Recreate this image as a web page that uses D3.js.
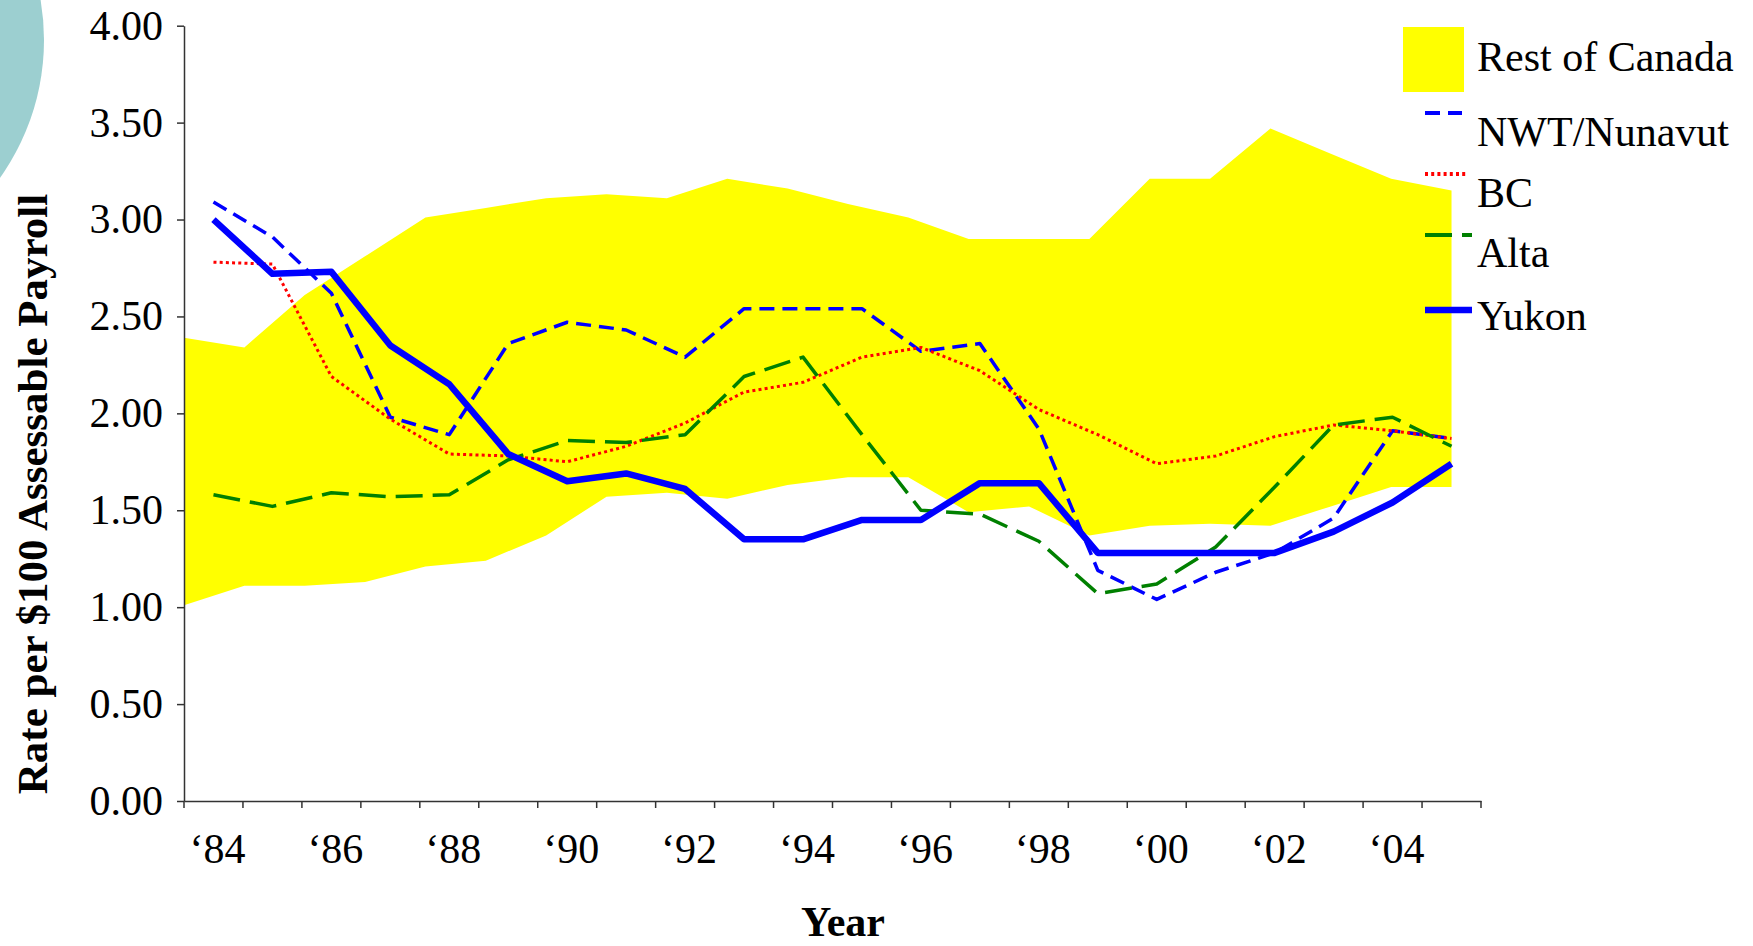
<!DOCTYPE html>
<html>
<head>
<meta charset="utf-8">
<script src="https://cdnjs.cloudflare.com/ajax/libs/d3/7.8.5/d3.min.js"></script>
<style>
    body { margin: 0; background: #fff; }
</style>
</head>
<body>
<div id="wrap"></div>
<script>

// data
var years = [1984, 1985, 1986, 1987, 1988, 1989, 1990, 1991, 1992, 1993, 1994,
             1995, 1996, 1997, 1998, 1999, 2000, 2001, 2002, 2003, 2004, 2005];

var restHigh = [2.39, 2.34, 2.61, 2.81, 3.01, 3.06, 3.11, 3.13, 3.11, 3.21, 3.16,
                3.08, 3.01, 2.90, 2.90, 2.90, 3.21, 3.21, 3.47, 3.34, 3.21, 3.15];
var restLow  = [1.01, 1.11, 1.11, 1.13, 1.21, 1.24, 1.37, 1.57, 1.59, 1.56, 1.63,
                1.67, 1.67, 1.49, 1.52, 1.37, 1.42, 1.43, 1.42, 1.52, 1.62, 1.62];

var nwt   = [3.09, 2.91, 2.62, 1.98, 1.89, 2.36, 2.47, 2.43, 2.29, 2.54, 2.54,
             2.54, 2.32, 2.36, 1.92, 1.19, 1.04, 1.18, 1.28, 1.46, 1.91, 1.87];
var bc    = [2.78, 2.77, 2.19, 1.97, 1.79, 1.78, 1.75, 1.83, 1.95, 2.11, 2.16,
             2.29, 2.34, 2.22, 2.02, 1.89, 1.74, 1.78, 1.88, 1.94, 1.91, 1.87];
var alta  = [1.58, 1.52, 1.59, 1.57, 1.58, 1.76, 1.86, 1.85, 1.89, 2.19, 2.29,
             1.89, 1.50, 1.48, 1.34, 1.07, 1.12, 1.31, 1.62, 1.94, 1.98, 1.83];
var yukon = [3.00, 2.72, 2.73, 2.35, 2.15, 1.79, 1.65, 1.69, 1.61, 1.35, 1.35,
             1.45, 1.45, 1.64, 1.64, 1.28, 1.28, 1.28, 1.28, 1.39, 1.54, 1.74];

var yTicks = [0, 0.5, 1, 1.5, 2, 2.5, 3, 3.5, 4];
var xLabelYears = [1984, 1986, 1988, 1990, 1992, 1994, 1996, 1998, 2000, 2002, 2004];

var restName = "Rest of Canada";
var seriesNames = ["NWT/Nunavut", "BC", "Alta", "Yukon"];
var seriesValues = [nwt, bc, alta, yukon];


// styles
var serif = '"Liberation Serif", "Times New Roman", Times, serif';
var lineStyles = [
    { color: "#0000ff", width: 3.5, dash: "15,8" },
    { color: "#ff0000", width: 3, dash: "3,3.2" },
    { color: "#008000", width: 3.5, dash: "27,10" },
    { color: "#0000ff", width: 6.5, dash: null }
];

var W = 1753, H = 946;
var plotL = 184, plotT = 25.7, plotR = 1481, plotB = 801;
var w = plotR - plotL, h = plotB - plotT;

var svg = d3.select("#wrap").append("svg")
    .attr("width", W)
    .attr("height", H)
    .attr("font-family", serif);

svg.append("rect").attr("width", W).attr("height", H).attr("fill", "#fff");

// decoration circle top-left
svg.append("circle")
    .attr("cx", -194)
    .attr("cy", 40)
    .attr("r", 238)
    .attr("fill", "#9ccfd0");

var g = svg.append("g").attr("transform", "translate(" + plotL + "," + plotT + ")");

var x = d3.scaleBand().domain(years).range([0, w]);
var xc = function(d) { return x(d) + x.bandwidth() / 2; };
// the area series runs from the axis to the last category centre
var xa = d3.scalePoint().domain(years).range([0, xc(years[years.length - 1])]);
var y = d3.scaleLinear().domain([0, 4]).range([h, 0]);

var rest = years.map(function(yr, i) {
    return { year: yr, lo: restLow[i], hi: restHigh[i] };
});

g.append("path")
    .datum(rest)
    .attr("fill", "#ffff00")
    .attr("d", d3.area()
        .x(function(d) { return xa(d.year); })
        .y0(function(d) { return y(d.lo); })
        .y1(function(d) { return y(d.hi); }));

var line = d3.line()
    .x(function(d) { return xc(d.year); })
    .y(function(d) { return y(d.v); });

for (var si = 0; si < seriesNames.length; si++) {
    var pts = years.map(function(yr, i) { return { year: yr, v: seriesValues[si][i] }; });
    g.append("path")
        .datum(pts)
        .attr("fill", "none")
        .attr("stroke", lineStyles[si].color)
        .attr("stroke-width", lineStyles[si].width)
        .attr("stroke-dasharray", lineStyles[si].dash)
        .attr("stroke-linejoin", "round")
        .attr("d", line);
}

// y axis
var yAxis = g.append("g")
    .call(d3.axisLeft(y)
        .tickValues(yTicks)
        .tickSize(7)
        .tickSizeOuter(0)
        .tickPadding(14)
        .tickFormat(d3.format(".2f")))
    .attr("font-family", serif)
    .attr("font-size", 42);
yAxis.selectAll("path, line").attr("stroke", "#333").attr("stroke-width", 1.5);
yAxis.selectAll("text").attr("fill", "#000");

// x axis, labels at category centres, ticks on the boundaries
var xAxis = g.append("g")
    .attr("transform", "translate(0," + h + ")")
    .call(d3.axisBottom(x)
        .tickValues(xLabelYears)
        .tickSize(0)
        .tickSizeOuter(0)
        .tickPadding(32)
        .tickFormat(function(d) { return "\u2018" + String(d).slice(2); }))
    .attr("font-family", serif)
    .attr("font-size", 42);
xAxis.select(".domain").attr("stroke", "#333").attr("stroke-width", 1.5);
xAxis.selectAll("text").attr("fill", "#000").attr("dx", 4);

xAxis.selectAll("line.bound")
    .data(d3.range(years.length + 1))
    .join("line")
    .attr("class", "bound")
    .attr("x1", function(i) { return i * x.step(); })
    .attr("x2", function(i) { return i * x.step(); })
    .attr("y1", 0)
    .attr("y2", 7)
    .attr("stroke", "#333")
    .attr("stroke-width", 1.5);

// titles
svg.append("text")
    .attr("transform", "translate(47,494) rotate(-90)")
    .attr("text-anchor", "middle")
    .attr("font-weight", "bold")
    .attr("font-size", 43)
    .text("Rate per $100 Assessable Payroll");

svg.append("text")
    .attr("x", 843)
    .attr("y", 936)
    .attr("text-anchor", "middle")
    .attr("font-weight", "bold")
    .attr("font-size", 42)
    .text("Year");

// legend
var legX = 1425, legTextX = 1477;
var lg = svg.append("g").attr("font-size", 42);

lg.append("rect")
    .attr("x", 1403)
    .attr("y", 27)
    .attr("width", 61)
    .attr("height", 65)
    .attr("fill", "#ffff00");
lg.append("text").attr("x", legTextX).attr("y", 71).text(restName);

var legRows = [
    { lineY: 113, textY: 146, len: 37 },
    { lineY: 174, textY: 207, len: 43 },
    { lineY: 235, textY: 267, len: 47 },
    { lineY: 310, textY: 330, len: 47 }
];

for (var li = 0; li < seriesNames.length; li++) {
    lg.append("line")
        .attr("x1", legX)
        .attr("x2", legX + legRows[li].len)
        .attr("y1", legRows[li].lineY)
        .attr("y2", legRows[li].lineY)
        .attr("stroke", lineStyles[li].color)
        .attr("stroke-width", li === 3 ? 6.5 : 4)
        .attr("stroke-dasharray", lineStyles[li].dash);
    lg.append("text")
        .attr("x", legTextX)
        .attr("y", legRows[li].textY)
        .text(seriesNames[li]);
}

</script>
</body>
</html>
